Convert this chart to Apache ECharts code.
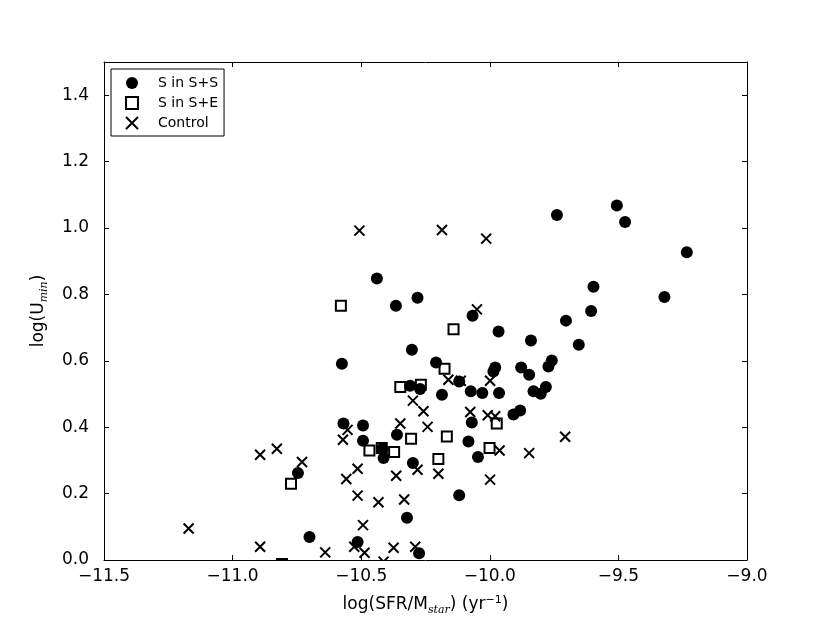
<!DOCTYPE html>
<html>
<head>
<meta charset="utf-8">
<script src="https://cdn.jsdelivr.net/npm/echarts@6/dist/echarts.min.js"></script>
<style>
html,body{margin:0;padding:0;background:#fff;}
#chart{width:830px;height:623px;}
</style>
</head>
<body>
<div id="chart"></div>
<script>
// S in S+S  (filled circles): [log(SFR/Mstar), log(Umin)]
var sInSS = [
  [-9.506,1.068],[-9.474,1.018],[-9.739,1.039],[-9.234,0.927],[-9.321,0.792],
  [-9.597,0.823],[-9.606,0.750],[-10.439,0.848],[-10.365,0.766],[-10.281,0.790],
  [-10.067,0.736],[-9.966,0.688],[-9.704,0.721],[-9.840,0.661],[-9.654,0.648],
  [-10.209,0.595],[-9.979,0.580],[-9.986,0.568],[-9.878,0.580],[-9.847,0.558],
  [-9.759,0.601],[-9.772,0.583],[-10.119,0.538],[-10.186,0.498],[-10.074,0.508],
  [-10.029,0.503],[-9.964,0.503],[-9.830,0.508],[-9.802,0.501],[-9.782,0.521],
  [-9.908,0.438],[-9.882,0.450],[-10.070,0.414],[-10.083,0.357],[-10.046,0.310],
  [-10.119,0.195],[-10.275,0.020],[-10.310,0.525],[-10.271,0.515],[-10.575,0.591],
  [-10.303,0.633],[-10.569,0.411],[-10.493,0.405],[-10.493,0.359],[-10.361,0.377],
  [-10.418,0.335],[-10.413,0.307],[-10.299,0.292],[-10.746,0.262],[-10.322,0.127],
  [-10.701,0.069],[-10.514,0.054]
];
// S in S+E (open squares)
var sInSE = [
  [-10.579,0.766],[-10.141,0.695],[-10.176,0.576],[-10.348,0.521],[-10.268,0.528],
  [-10.167,0.372],[-9.973,0.411],[-10.306,0.365],[-10.468,0.330],[-10.420,0.337],
  [-10.372,0.325],[-10.200,0.304],[-10.001,0.337],[-10.773,0.230],[-10.808,-0.012]
];
// Control (crosses)
var control = [
  [-10.507,0.992],[-10.186,0.994],[-10.014,0.968],[-10.050,0.755],[-10.161,0.543],
  [-10.113,0.540],[-9.999,0.540],[-10.258,0.448],[-10.076,0.446],[-10.008,0.436],
  [-9.979,0.433],[-10.242,0.401],[-9.962,0.330],[-9.847,0.322],[-9.707,0.371],
  [-10.200,0.260],[-9.999,0.242],[-10.281,0.272],[-10.299,0.480],[-10.348,0.411],
  [-10.571,0.362],[-10.553,0.392],[-10.893,0.317],[-10.828,0.335],[-10.730,0.295],
  [-10.514,0.275],[-10.558,0.244],[-10.364,0.254],[-10.514,0.194],[-10.433,0.174],
  [-10.333,0.182],[-11.171,0.095],[-10.493,0.105],[-10.893,0.040],[-10.640,0.023],
  [-10.527,0.040],[-10.487,0.022],[-10.413,-0.005],[-10.374,0.037],[-10.290,0.040]
];
var seriesNames = ['S in S+S', 'S in S+E', 'Control'];
var xRange = [-11.5, -9.0], xStep = 0.5;
var yRange = [0.0, 1.5], yStep = 0.2;

var FONT = 'DejaVu Sans';
function fmtX(v){ return (v < 0 ? '\u2212' : '') + Math.abs(v).toFixed(1); }
function fmtY(v){ return (v < 0 ? '\u2212' : '') + Math.abs(v).toFixed(1); }

var axisLine = {show:true, onZero:false, lineStyle:{color:'#000', width:1}};
var axisTick = {show:true, inside:true, length:5, lineStyle:{color:'#000', width:1}};

var chart = echarts.init(document.getElementById('chart'), null, {renderer:'canvas'});
chart.setOption({
  animation:false,
  backgroundColor:'#fff',
  grid:{left:104, right:83, top:62, bottom:63, containLabel:false},
  legend:{
    data:seriesNames, orient:'vertical', left:111, top:69,
    itemWidth:12, itemHeight:12, itemGap:6,
    padding:[7,6,6,14], borderColor:'#000', borderWidth:1, backgroundColor:'#fff',
    textStyle:{fontFamily:FONT, fontSize:14, color:'#000', padding:[0,0,0,15]}
  },
  xAxis:[{
    type:'value', min:xRange[0], max:xRange[1], interval:xStep, position:'bottom', z:150,
    axisLine:axisLine, axisTick:axisTick, splitLine:{show:false},
    axisLabel:{formatter:fmtX, fontFamily:FONT, fontSize:17, color:'#000', margin:8},
    name:'{a|log(SFR/M}{s|star}{a|) (yr}{p|\u22121}{a|)}',
    nameLocation:'middle', nameGap:34,
    nameTextStyle:{rich:{
      a:{fontFamily:FONT, fontSize:17, color:'#000', lineHeight:22},
      s:{fontFamily:'DejaVu Serif', fontStyle:'italic', fontSize:11, color:'#000', lineHeight:12, padding:[10,0,0,0]},
      p:{fontFamily:FONT, fontSize:11, color:'#000', lineHeight:12, padding:[0,0,10,0]}
    }}
  },{
    type:'value', min:xRange[0], max:xRange[1], interval:xStep, position:'top', z:150,
    axisLine:axisLine, axisTick:axisTick, axisLabel:{show:false}, splitLine:{show:false}
  }],
  yAxis:[{
    type:'value', min:yRange[0], max:yRange[1], interval:yStep, position:'left', z:150,
    axisLine:axisLine, axisTick:axisTick, splitLine:{show:false},
    axisLabel:{formatter:fmtY, fontFamily:FONT, fontSize:17, color:'#000', margin:15, showMaxLabel:false},
    name:'{a|log(U}{s|min}{a|)}',
    nameLocation:'middle', nameGap:54,
    nameTextStyle:{rich:{
      a:{fontFamily:FONT, fontSize:17, color:'#000', lineHeight:22},
      s:{fontFamily:'DejaVu Serif', fontStyle:'italic', fontSize:11, color:'#000', lineHeight:12, padding:[10,0,0,0]}
    }}
  },{
    type:'value', min:yRange[0], max:yRange[1], interval:yStep, position:'right', z:150,
    axisLine:axisLine, axisTick:axisTick, axisLabel:{show:false}, splitLine:{show:false}
  }],
  series:[
    {name:seriesNames[0], type:'scatter', data:sInSS, symbol:'circle', symbolSize:12,
     clip:false, itemStyle:{color:'#000', opacity:1}},
    {name:seriesNames[1], type:'scatter', data:sInSE, symbol:'rect', symbolSize:10,
     clip:false, itemStyle:{color:'rgba(0,0,0,0)', borderColor:'#000', borderWidth:2, opacity:1}},
    {name:seriesNames[2], type:'scatter', data:control, symbol:'path://M0,0L10,10M10,0L0,10', symbolSize:10,
     clip:false, itemStyle:{color:'#000', borderColor:'#000', borderWidth:2, opacity:1}}
  ],
  graphic:[{
    type:'rect', left:100, top:561, z:100, silent:true,
    shape:{width:660, height:12}, style:{fill:'#fff'}
  }]
});
</script>
</body>
</html>
